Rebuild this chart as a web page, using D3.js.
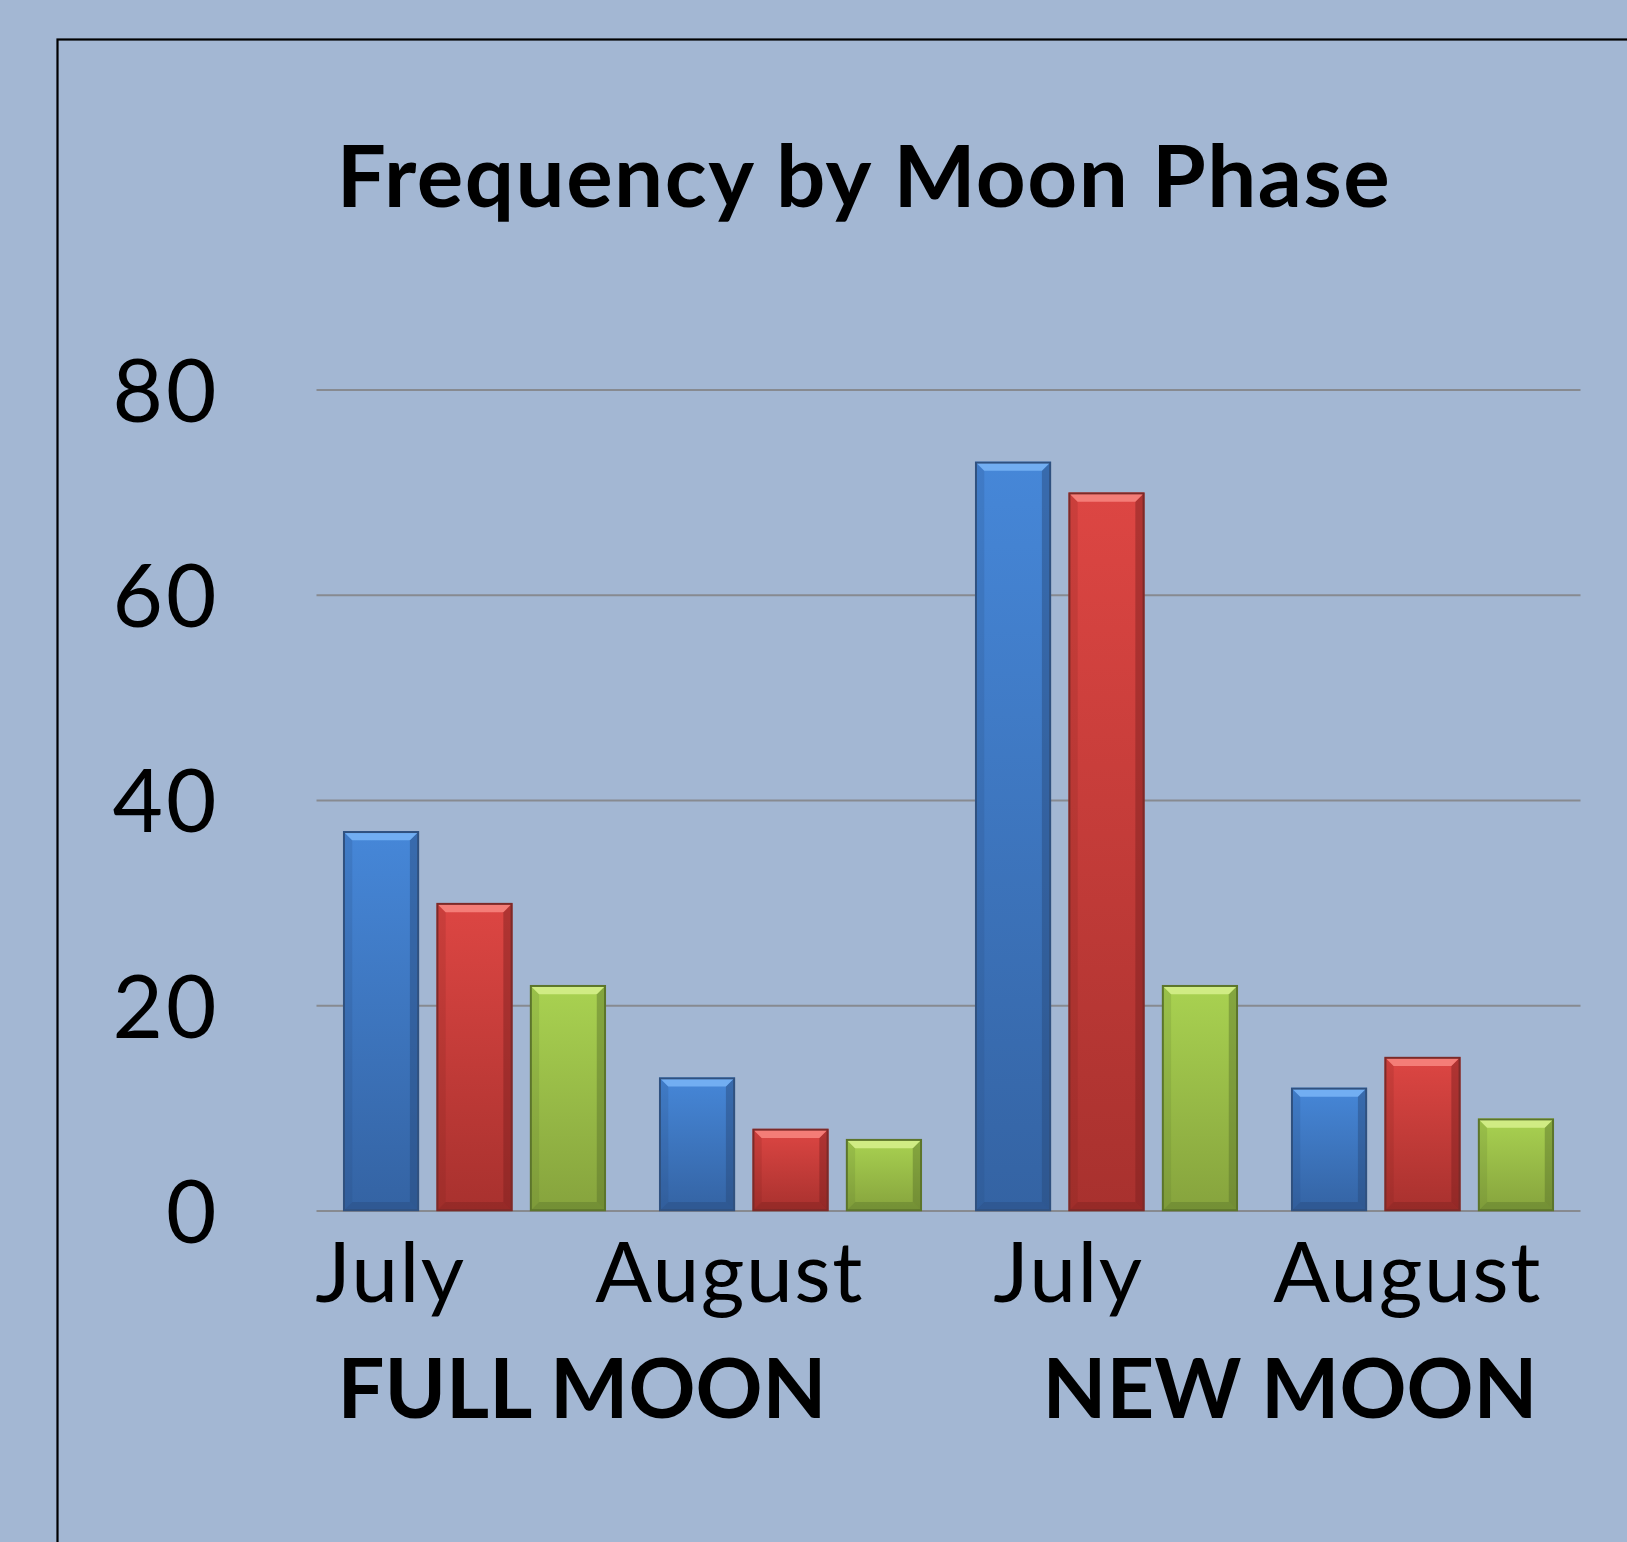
<!DOCTYPE html>
<html>
<head>
<meta charset="utf-8">
<script src="https://cdn.jsdelivr.net/npm/d3@7"></script>
<style>
    html, body { margin: 0; padding: 0; background: #a3b7d3; }
    svg { display: block; }
</style>
</head>
<body>
<svg id="chart"></svg>
<script>
// data
const title = "Frequency by Moon Phase";
const categories = ["July", "August", "July", "August"];
const groups = ["FULL MOON", "NEW MOON"];
const seriesNames = ["Series 1", "Series 2", "Series 3"];
const blueValues = [37, 13, 73, 12];
const redValues = [30, 8, 70, 15];
const greenValues = [22, 7, 22, 9];
const yTicks = [0, 20, 40, 60, 80];

const width = 1627, height = 1542;
const plot = {left: 316.5, right: 1580.5, top: 390, bottom: 1211};

const svg = d3.select("#chart").attr("width", width).attr("height", height);

// colours of the three series: body top / bottom, bevel light, bevel dark, outline
const palette = [
    {top: "#4687d8", bottom: "#3463a3", light: "#72aef2", dark: "#27497a", edge: "#30517f"},
    {top: "#dd4643", bottom: "#a8312e", light: "#f47d77", dark: "#7a201e", edge: "#7c2a28"},
    {top: "#a9d251", bottom: "#86a33d", light: "#d0ec84", dark: "#58722a", edge: "#5c752b"}
];

const table = categories.map((c, i) => ({
    cat: i,
    values: [blueValues[i], redValues[i], greenValues[i]]
}));

svg.append("rect")
    .attr("width", width).attr("height", height)
    .attr("fill", "#a3b7d3");

// chart frame, runs off the right and bottom edges
svg.append("rect")
    .attr("x", 57.5).attr("y", 39.5)
    .attr("width", 1700).attr("height", 1700)
    .attr("fill", "none")
    .attr("stroke", "#000")
    .attr("stroke-width", 2.2);

const defs = svg.append("defs");
palette.forEach((p, i) => {
    const g = defs.append("linearGradient")
        .attr("id", "body" + i)
        .attr("x1", 0).attr("y1", 0).attr("x2", 0).attr("y2", 1);
    g.append("stop").attr("offset", "0%").attr("stop-color", p.top);
    g.append("stop").attr("offset", "100%").attr("stop-color", p.bottom);
});

const xScale = d3.scaleBand()
    .domain(d3.range(categories.length))
    .range([plot.left, plot.right])
    .padding(0);

const seriesScale = d3.scaleBand()
    .domain(d3.range(seriesNames.length))
    .range([0, xScale.bandwidth()])
    .paddingInner(0.19)
    .paddingOuter(0.286);

const yScale = d3.scaleLinear()
    .domain([0, 80])
    .range([plot.bottom, plot.top]);

// label positions (Excel laid the axis text out a little wider than the bars)
const labelScale = d3.scaleBand()
    .domain(d3.range(categories.length))
    .range([221, 1577]);
const groupScale = d3.scaleBand()
    .domain(d3.range(groups.length))
    .range([228, 1644]);

// gridlines
svg.append("g")
    .attr("class", "grid")
    .selectAll("line")
    .data(yTicks).enter()
    .append("line")
    .attr("x1", plot.left)
    .attr("x2", plot.right)
    .attr("y1", d => yScale(d))
    .attr("y2", d => yScale(d))
    .attr("stroke", "#878a90")
    .attr("stroke-width", 2);

// y axis labels
const yAxis = svg.append("g")
    .attr("transform", `translate(${plot.left},0)`)
    .call(d3.axisLeft(yScale).tickValues(yTicks).tickSize(0).tickPadding(97));
yAxis.select(".domain").remove();
yAxis.selectAll("text")
    .attr("font-family", "Lato, sans-serif")
    .attr("font-size", 87)
    .attr("letter-spacing", 3)
    .attr("fill", "#000")
    .attr("dy", "0.36em");

// bars
const bevel = 9;
const cats = svg.append("g")
    .attr("class", "bars")
    .selectAll("g")
    .data(table).enter()
    .append("g")
    .attr("transform", d => `translate(${xScale(d.cat)},0)`);

const bars = cats.selectAll("g")
    .data(d => d.values.map((v, s) => ({s: s, v: v}))).enter()
    .append("g");

bars.each(function (d) {
    const g = d3.select(this);
    const p = palette[d.s];
    const x = seriesScale(d.s), w = seriesScale.bandwidth();
    const y = yScale(d.v), h = yScale(0) - yScale(d.v);
    const b = Math.min(bevel, h / 2);

    g.append("rect")
        .attr("x", x).attr("y", y)
        .attr("width", w).attr("height", h)
        .attr("fill", `url(#body${d.s})`);
    // right edge, darker
    g.append("polygon")
        .attr("points", [[x + w, y], [x + w, y + h], [x + w - b, y + h - b], [x + w - b, y + b]].join(" "))
        .attr("fill", p.dark).attr("opacity", 0.45);
    // left edge, a touch darker
    g.append("polygon")
        .attr("points", [[x, y], [x + b, y + b], [x + b, y + h - b], [x, y + h]].join(" "))
        .attr("fill", p.dark).attr("opacity", 0.18);
    // bottom edge
    g.append("polygon")
        .attr("points", [[x, y + h], [x + w, y + h], [x + w - b, y + h - b], [x + b, y + h - b]].join(" "))
        .attr("fill", p.dark).attr("opacity", 0.4);
    // top edge, highlight
    g.append("polygon")
        .attr("points", [[x, y], [x + w, y], [x + w - b, y + b], [x + b, y + b]].join(" "))
        .attr("fill", p.light);
    g.append("rect")
        .attr("x", x + 0.75).attr("y", y + 0.75)
        .attr("width", w - 1.5).attr("height", h - 1.5)
        .attr("fill", "none")
        .attr("stroke", p.edge)
        .attr("stroke-width", 2);
});

// category labels
svg.append("g")
    .attr("class", "cat-labels")
    .selectAll("text")
    .data(categories).enter()
    .append("text")
    .attr("x", (d, i) => labelScale(i) + labelScale.bandwidth() / 2)
    .attr("y", 1302)
    .attr("text-anchor", "middle")
    .attr("font-family", "Lato, sans-serif")
    .attr("font-size", 84)
    .attr("letter-spacing", 1.5)
    .attr("fill", "#000")
    .text(d => d);

// group labels
svg.append("g")
    .attr("class", "group-labels")
    .selectAll("text")
    .data(groups).enter()
    .append("text")
    .attr("x", (d, i) => groupScale(i) + groupScale.bandwidth() / 2)
    .attr("y", 1418)
    .attr("text-anchor", "middle")
    .attr("font-family", "Lato, sans-serif")
    .attr("font-weight", "bold")
    .attr("font-size", 83)
    .attr("fill", "#000")
    .text(d => d);

// title
svg.append("text")
    .attr("x", 864)
    .attr("y", 207)
    .attr("text-anchor", "middle")
    .attr("font-family", "Lato, sans-serif")
    .attr("font-weight", "bold")
    .attr("font-size", 87)
    .attr("letter-spacing", 1.5)
    .attr("fill", "#000")
    .text(title);
</script>
</body>
</html>
